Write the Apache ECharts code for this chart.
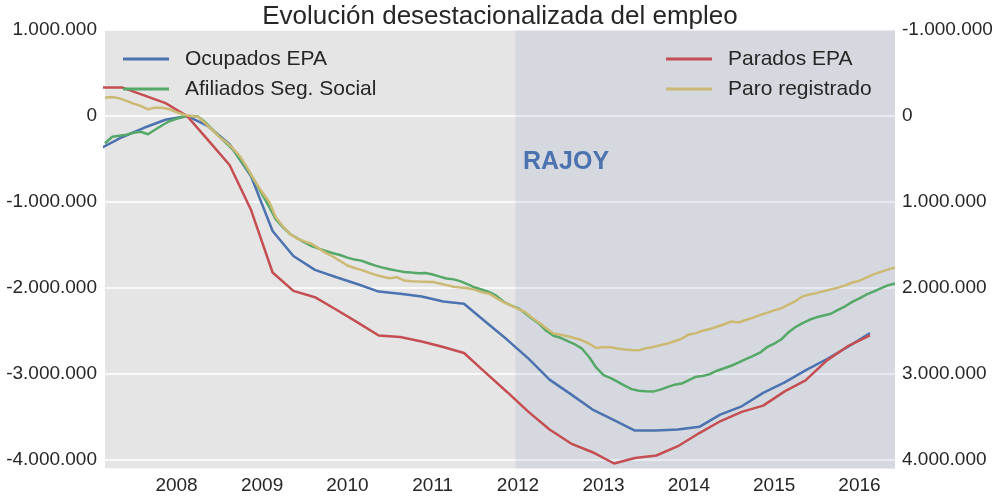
<!DOCTYPE html>
<html>
<head>
<meta charset="utf-8">
<script src="https://cdn.jsdelivr.net/npm/echarts@6/dist/echarts.min.js"></script>
<style>
  html, body { margin: 0; padding: 0; background: #fff; }
  #chart { width: 1000px; height: 500px; }
</style>
</head>
<body>
<div id="chart"></div>
<script>
// Values in thousands
// Quarterly EPA series: Q1 2007 .. Q1 2016 (plotted mid-quarter)
const ocupadosEPA = [
  -370, -244, -137, -44,
  0, -119, -328, -700,
  -1338, -1628, -1790, -1875,
  -1956, -2042, -2068, -2100,
  -2158, -2184, -2392, -2600,
  -2822, -3066, -3237, -3414,
  -3538, -3658, -3658, -3646,
  -3615, -3472, -3376, -3220,
  -3097, -2958, -2826, -2680,
  -2524
]
// right axis (inverted)
const paradosEPA = [
  -330, -330, -240, -150,
  0, 280, 570, 1094,
  1820, 2034, 2107, 2253,
  2403, 2553, 2571, 2622,
  2687, 2756, 2984, 3209,
  3441, 3646, 3809, 3910,
  4041, 3977, 3948, 3840,
  3687, 3550, 3441, 3368,
  3202, 3074, 2842, 2672,
  2552
]

// Monthly series: Mar 2007 .. Jun 2016
const afiliados = [
  -317, -241, -230, -218, -195, -183, -212, -160, -108, -61, -32, -9,
  0, -7, -67, -154, -235, -317, -398, -514, -630, -758, -908, -1059,
  -1202, -1295, -1372, -1422, -1469, -1512, -1543, -1570, -1596, -1616, -1647, -1670,
  -1682, -1712, -1740, -1763, -1782, -1798, -1813, -1821, -1828, -1826, -1844, -1868,
  -1889, -1900, -1923, -1958, -1995, -2020, -2049, -2092, -2161, -2202, -2234, -2295,
  -2358, -2416, -2498, -2556, -2579, -2619, -2657, -2706, -2805, -2927, -3014, -3049,
  -3089, -3136, -3176, -3194, -3202, -3205, -3182, -3153, -3124, -3112, -3072, -3031,
  -3023, -3002, -2962, -2933, -2904, -2869, -2828, -2793, -2753, -2689, -2648, -2596,
  -2521, -2457, -2411, -2370, -2341, -2321, -2300, -2254, -2213, -2161, -2121, -2074,
  -2042, -2005, -1970, -1947
]
// right axis (inverted)
const paroRegistrado = [
  -213, -220, -205, -176, -144, -118, -78, -97, -95, -78, -45, -14,
  0, 9, 79, 160, 241, 305, 386, 479, 612, 758, 885, 1001,
  1181, 1285, 1372, 1427, 1459, 1486, 1540, 1593, 1637, 1686, 1738, 1767,
  1790, 1819, 1848, 1869, 1886, 1875, 1914, 1921, 1926, 1927, 1929, 1947,
  1967, 1985, 1995, 2004, 2022, 2051, 2068, 2118, 2167, 2202, 2242, 2281,
  2347, 2405, 2468, 2530, 2544, 2561, 2584, 2608, 2648, 2698, 2687, 2689,
  2704, 2716, 2721, 2725, 2700, 2687, 2666, 2645, 2619, 2590, 2540, 2525,
  2497, 2477, 2451, 2422, 2390, 2401, 2373, 2347, 2314, 2289, 2261, 2235,
  2196, 2155, 2100, 2076, 2060, 2037, 2016, 1996, 1970, 1936, 1915, 1877,
  1842, 1813, 1786, 1760
]

const FONT = '"Liberation Sans", Arial, sans-serif'
const TEXT = '#262626'

const quarterDates = ocupadosEPA.map((_, i) => new Date(2007, 1 + 3 * i, 15).getTime())
const monthDates = afiliados.map((_, i) => new Date(2007, 2 + i, 1).getTime())
const pair = (dates, vals) => vals.map((v, i) => [dates[i], v * 1000])

// Rajoy took office on 21 Dec 2011
const rajoyStart = new Date(2011, 11, 21).getTime()
const xMin = new Date(2007, 2, 1).getTime()
const xMax = new Date(2016, 5, 1).getTime()

const fmt = v => {
  const s = String(Math.abs(Math.round(v))).replace(/\B(?=(\d{3})+(?!\d))/g, '.')
  return (v < 0 ? '-' : '') + s
}

const chart = echarts.init(document.getElementById('chart'))

const axisLabelStyle = { fontSize: 19, color: TEXT, fontFamily: FONT }

const legendBase = {
  orient: 'vertical',
  top: 48,
  padding: 0,
  icon: 'rect',
  itemWidth: 46,
  itemHeight: 3,
  itemGap: 8,
  textStyle: { fontSize: 21, lineHeight: 22, color: TEXT, fontFamily: FONT, padding: [0, 0, 0, 11] }
}

chart.setOption({
  animation: false,
  title: {
    text: 'Evolución desestacionalizada del empleo',
    left: 'center',
    top: -1,
    textStyle: { fontSize: 26, fontWeight: 'normal', color: TEXT, fontFamily: FONT }
  },
  legend: [
    { ...legendBase, left: 123, data: ['Ocupados EPA', 'Afiliados Seg. Social'] },
    { ...legendBase, left: 666, data: ['Parados EPA', 'Paro registrado'] }
  ],
  grid: {
    left: 105,
    right: 105,
    top: 30,
    bottom: 31,
    show: true,
    backgroundColor: '#e5e5e5',
    borderWidth: 0
  },
  xAxis: {
    type: 'time',
    min: xMin,
    max: xMax,
    splitNumber: 10,
    minInterval: 365 * 24 * 3600 * 1000,
    axisLine: { show: false },
    axisTick: { show: false },
    splitLine: { show: false },
    axisLabel: {
      ...axisLabelStyle,
      margin: 7,
      showMinLabel: false,
      showMaxLabel: false,
      formatter: v => String(new Date(v).getFullYear())
    }
  },
  yAxis: [
    {
      type: 'value',
      min: -4105000,
      max: 1000000,
      splitNumber: 5,
      axisLine: { show: false },
      axisTick: { show: false },
      splitLine: { lineStyle: { color: '#ffffff', width: 1.5 } },
      axisLabel: { ...axisLabelStyle, margin: 8, showMinLabel: false, formatter: fmt }
    },
    {
      type: 'value',
      position: 'right',
      inverse: true,
      min: -1000000,
      max: 4105000,
      splitNumber: 5,
      axisLine: { show: false },
      axisTick: { show: false },
      splitLine: { show: false },
      axisLabel: { ...axisLabelStyle, margin: 7, showMaxLabel: false, formatter: fmt }
    }
  ],
  graphic: [
    {
      type: 'text',
      left: 523,
      top: 150,
      style: { text: 'RAJOY', fontSize: 25, fontWeight: 'bold', fill: '#4C72B0', fontFamily: FONT }
    }
  ],
  series: [
    {
      name: 'Ocupados EPA',
      type: 'line',
      yAxisIndex: 0,
      symbol: 'none',
      color: '#4C72B0',
      lineStyle: { width: 2.5 },
      data: pair(quarterDates, ocupadosEPA),
      markArea: {
        silent: true,
        itemStyle: { color: 'rgba(76,114,176,0.1)' },
        data: [[{ xAxis: rajoyStart }, { xAxis: xMax }]]
      }
    },
    {
      name: 'Afiliados Seg. Social',
      type: 'line',
      yAxisIndex: 0,
      symbol: 'none',
      color: '#55A868',
      lineStyle: { width: 2.5 },
      data: pair(monthDates, afiliados)
    },
    {
      name: 'Parados EPA',
      type: 'line',
      yAxisIndex: 1,
      symbol: 'none',
      color: '#C44E52',
      lineStyle: { width: 2.5 },
      data: pair(quarterDates, paradosEPA)
    },
    {
      name: 'Paro registrado',
      type: 'line',
      yAxisIndex: 1,
      symbol: 'none',
      color: '#CCB974',
      lineStyle: { width: 2.5 },
      data: pair(monthDates, paroRegistrado)
    }
  ]
})
</script>
</body>
</html>
